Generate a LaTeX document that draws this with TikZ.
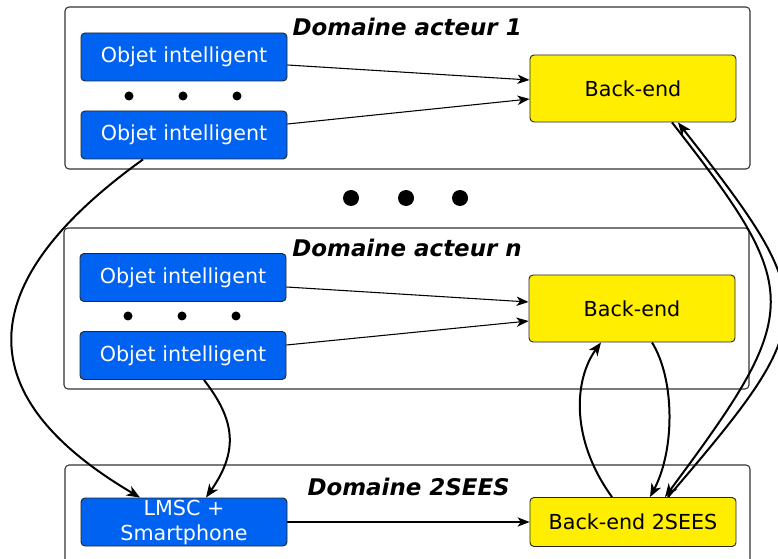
\documentclass[tikz,border=0pt]{standalone}
\usepackage{fontspec}
\setmainfont{DejaVu Sans}
\usepackage{xcolor}
\usetikzlibrary{calc,arrows.meta}
\definecolor{objblue}{RGB}{0,98,240}
\definecolor{backyellow}{RGB}{255,238,0}

\begin{document}
\begin{tikzpicture}[
  x=0.75pt, y=-0.75pt,
  domainbox/.style={draw=black!80, line width=0.8pt, rounded corners=3pt, fill=white, minimum width=513.75pt, inner sep=0pt},
  objbox/.style={draw=black!85, line width=0.7pt, rounded corners=3pt, fill=objblue, text=white, align=center, minimum width=154.5pt, minimum height=36pt, inner sep=0pt, font=\fontsize{15.5}{18.75}\selectfont},
  backbox/.style={draw=black!85, line width=0.7pt, rounded corners=3pt, fill=backyellow, align=center, minimum width=154.5pt, minimum height=50.25pt, inner sep=0pt, font=\fontsize{15.5}{17}\selectfont},
  domtitle/.style={anchor=east, inner sep=0pt, font=\fontsize{17.2}{19}\selectfont\bfseries\itshape},
  arrow/.style={-{Stealth[length=9pt,width=7pt,inset=2.5pt]}, line width=0.8pt},
  curvearrow/.style={-{Stealth[length=10pt,width=8pt,inset=3pt]}, line width=1.5pt}
]
\path[use as bounding box, clip] (0,0) rectangle (778,559);
\node[domainbox, minimum height=121.5pt] (dom1) at (407.5,88) {};
\node[domainbox, minimum height=120.75pt] (domn) at (406.5,308.5) {};
\node[domainbox, minimum height=101.25pt] (dom2sees) at (407.5,532.5) {};
\node[domtitle] (t1) at (522,27) {Domaine acteur 1};
\node[domtitle] (tn) at (522,248) {Domaine acteur n};
\node[domtitle] (t2sees) at (510,487) {Domaine 2SEES};
\node[objbox] (obj1a) at (184,57) {Objet intelligent};
\node[objbox] (obj1b) at (184,135) {Objet intelligent};
\node[backbox] (back1) at (633,88.5) {Back-end};
\node[objbox] (objna) at (183,277.5) {Objet intelligent};
\node[objbox] (objnb) at (183,355.5) {Objet intelligent};
\node[backbox] (backn) at (632,308.5) {Back-end};
\node[objbox] (lmsc) at (184,522) {LMSC +\\Smartphone};
\node[backbox, minimum height=36.75pt] (back2sees) at (633,522) {Back-end 2SEES};
\foreach \x in {129,183,237} {
  \fill (\x,96) circle (4.5);
  \fill (\x-1,316) circle (4.5);
}
\foreach \x in {351,406,460}
  \fill (\x,198) circle (8);
\draw[arrow] ($(obj1a.east)+(0,8)$) -- ($(back1.west)+(0,-8.5)$);
\draw[arrow] ($(obj1b.east)+(0,-11)$) -- ($(back1.west)+(0,10.5)$);
\draw[arrow] ($(objna.east)+(0,9.5)$) -- ($(backn.west)+(0,-6.5)$);
\draw[arrow] ($(objnb.east)+(0,-10.5)$) -- ($(backn.west)+(0,12.5)$);
\draw[arrow] (lmsc.east) -- (back2sees.west);
\draw[curvearrow] ($(obj1b.south)+(-41,0)$) .. controls +(-153,110) and +(-190,-112) .. ($(lmsc.north)+(-44,0)$);
\draw[curvearrow] ($(objnb.south)+(21,0)$) .. controls +(31,40) and +(33,-47) .. ($(lmsc.north)+(22,0)$);
\draw[curvearrow] ($(back2sees.north)+(-21,0)$) .. controls +(-42,-58) and +(-27,37) .. ($(backn.south)+(-31,0)$);
\draw[curvearrow] ($(backn.south)+(20,0)$) .. controls +(23,37) and +(25,-47) .. ($(back2sees.north)+(17,0)$);
\draw[curvearrow] ($(back1.south)+(39,0)$) .. controls +(132,169) and +(139,-187) .. ($(back2sees.north)+(32,0)$);
\draw[curvearrow] ($(back2sees.north)+(35,0)$) .. controls +(154,-180) and +(144,184) .. ($(back1.south)+(45,0)$);
\end{tikzpicture}
\end{document}
